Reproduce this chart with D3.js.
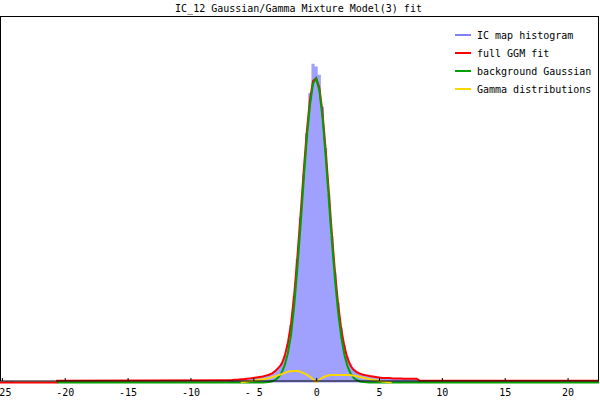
<!DOCTYPE html>
<html><head><meta charset="utf-8">
<script src="https://cdn.jsdelivr.net/npm/d3@7"></script>
<style>
body{margin:0;background:#fff}
svg{display:block}
text{font-family:"DejaVu Sans Mono","Liberation Mono",monospace;font-size:10px;fill:#000}
</style>
</head><body>
<svg id="chart" width="600" height="400"></svg>
<script>
// ---------------- data ----------------
const chartTitle = "IC_12 Gaussian/Gamma Mixture Model(3) fit";
const legendLabels = ["IC map histogram", "full GGM fit", "background Gaussian", "Gamma distributions"];
const legendColors = ["#8080ff", "#ff0000", "#00a000", "#ffd700"];
const xTicks = [-25, -20, -15, -10, -5, 0, 5, 10, 15, 20];
const xTickLabels = ["-25", "-20", "-15", "-10", "- 5", "0", "5", "10", "15", "20"];

// bins centred at -7, -6.75, ..., 8.5
const binStart = -7;
const binWidth = 0.25;
const histValues = [
  .0015,.002,.002,.0025,.003,.003,.0035,.004,.0045,.005,
  .006,.0065,.0075,.0085,.0105,.013,.0165,.021,.029,.042,
  .063,.094,.135,.180,.227,.272,.316,.348,.345,.336,
  .301,.256,.206,.160,.120,.087,.060,.041,.028,.020,
  .015,.012,.010,.009,.008,.0072,.0066,.006,.0055,.005,
  .0047,.0045,.0043,.0042,.004,.004,.0038,.0036,.0035,.0035,
  .0033,.002,.001
];
const fullFit = [
  .0025,.0025,.003,.003,.0035,.0035,.004,.0045,.005,.0055,
  .006,.0065,.0075,.0085,.010,.0125,.016,.020,.029,.043,
  .064,.095,.136,.181,.229,.273,.308,.329,.332,.322,
  .295,.255,.209,.162,.120,.085,.058,.039,.026,.018,
  .0135,.011,.0095,.0085,.0078,.007,.0065,.006,.0055,.005,
  .005,.0048,.0046,.0045,.0044,.0043,.0042,.0042,.0041,.004,
  .004,.0018,.0018
];
const backgroundGaussian = [
  0,0,0,0,0,0,0,0,0,0,
  0,.0001,.0002,.0006,.0013,.0028,.0056,.0105,.019,.032,
  .052,.083,.124,.170,.219,.265,.302,.326,.332,.319,
  .290,.248,.201,.154,.112,.0764,.0494,.0301,.0174,.0095,
  .0049,.0024,.0011,.0005,.0002,.0001,0,0,0,0,
  0,0,0,0,0,0,0,0,0,0,
  0,0,0
];
const gammaDist = [
  null,null,null,null,0,.0005,.001,.0015,.002,.0025,
  .003,.0035,.004,.0048,.0058,.0068,.008,.0092,.0105,.0118,
  .0124,.0126,.0125,.0118,.0102,.0085,.0063,.0035,.0005,.003,
  .0052,.0068,.0078,.0082,.0083,.0083,.0083,.0082,.0081,.0079,
  .0075,.0069,.0061,.0052,.0044,.0037,.003,.0024,.0018,.0012,
  .0007,.0003,0,null,null,null,null,null,null,null,
  null,null,null
];
const histOutlierX = [-24.6, -24.25];
const histOutlierY = [0.0015, 0.0015];
const fitTailLevel = 0.0018;   // full fit level outside the binned range
const fitStartX = -20.6;       // where the fit curves begin
const xDomain = [-25.15, 22.5];
const yDomain = [0, 0.4];

// ---------------- drawing ----------------
const svg = d3.select("#chart");
const L = 0, R = 599, T = 16, B = 382.5;
const x = d3.scaleLinear().domain(xDomain).range([L, R]);
const y = d3.scaleLinear().domain(yDomain).range([B, T]);

svg.append("defs").append("clipPath").attr("id", "clip")
  .append("rect").attr("x", 0).attr("y", 0).attr("width", 599).attr("height", 400);
const plot = svg.append("g").attr("clip-path", "url(#clip)");

const centers = histValues.map((_, i) => binStart + i * binWidth);

// histogram
const histPts = [{x: centers[0] - binWidth, v: 0}]
  .concat(centers.map((c, i) => ({x: c, v: histValues[i]})))
  .concat([{x: centers[centers.length - 1] + binWidth, v: 0}]);
plot.append("path")
  .datum(histPts)
  .attr("fill", "#a0a0ff")
  .attr("d", d3.area().curve(d3.curveStep).x(d => x(d.x)).y0(y(0)).y1(d => y(d.v)));
plot.selectAll("rect.out").data(histOutlierX).join("rect")
  .attr("class", "out")
  .attr("x", d => x(d - binWidth / 2)).attr("width", x(binWidth) - x(0))
  .attr("y", (d, i) => y(histOutlierY[i])).attr("height", (d, i) => y(0) - y(histOutlierY[i]))
  .attr("fill", "#a0a0ff");

const fitLine = d3.line().x(d => x(d.x)).y(d => y(d.v));
function binPts(vals) {
  const pts = [];
  vals.forEach((v, i) => { if (v !== null) pts.push({x: centers[i], v: v}); });
  return pts;
}
const lastC = centers[centers.length - 1];

// full fit
const redPts = [{x: xDomain[0] - 0.2, v: 0}, {x: fitStartX, v: 0}, {x: fitStartX, v: fitTailLevel}]
  .concat(binPts(fullFit))
  .concat([{x: xDomain[1] + 0.2, v: fitTailLevel}]);
plot.append("path").datum(redPts)
  .attr("fill", "none").attr("stroke", legendColors[1]).attr("stroke-width", 2)
  .attr("d", fitLine);

// background gaussian
const greenPts = [{x: fitStartX, v: 0}]
  .concat(binPts(backgroundGaussian))
  .concat([{x: xDomain[1] + 0.2, v: 0}]);
plot.append("path").datum(greenPts)
  .attr("fill", "none").attr("stroke", legendColors[2]).attr("stroke-width", 2)
  .attr("d", fitLine);

// gamma distributions
plot.append("path").datum(binPts(gammaDist))
  .attr("fill", "none").attr("stroke", legendColors[3]).attr("stroke-width", 2)
  .attr("d", fitLine);

// border
svg.append("rect").attr("x", 0.5).attr("y", 16.5).attr("width", 598).attr("height", 364.5)
  .attr("fill", "none").attr("stroke", "#000").attr("stroke-width", 1);

// x axis
const axis = d3.axisBottom(x)
  .tickValues(xTicks)
  .tickFormat((d, i) => xTickLabels[i])
  .tickSizeInner(-3).tickSizeOuter(0).tickPadding(8);
const ax = svg.append("g").attr("transform", "translate(0,381)").call(axis);
ax.select(".domain").remove();
ax.selectAll("line").attr("stroke", "#000");
ax.selectAll("text").attr("font-family", "DejaVu Sans Mono").attr("font-size", 10).attr("fill", "#000");

// title
svg.append("text").attr("x", 298.5).attr("y", 12).attr("text-anchor", "middle").text(chartTitle);

// legend
const lg = svg.append("g");
legendLabels.forEach((lab, i) => {
  const yy = 35 + i * 18;
  lg.append("line").attr("x1", 455).attr("x2", 471).attr("y1", yy).attr("y2", yy)
    .attr("stroke", legendColors[i]).attr("stroke-width", 2);
  lg.append("text").attr("x", 477).attr("y", yy + 3.5).text(lab);
});
</script>
</body></html>
